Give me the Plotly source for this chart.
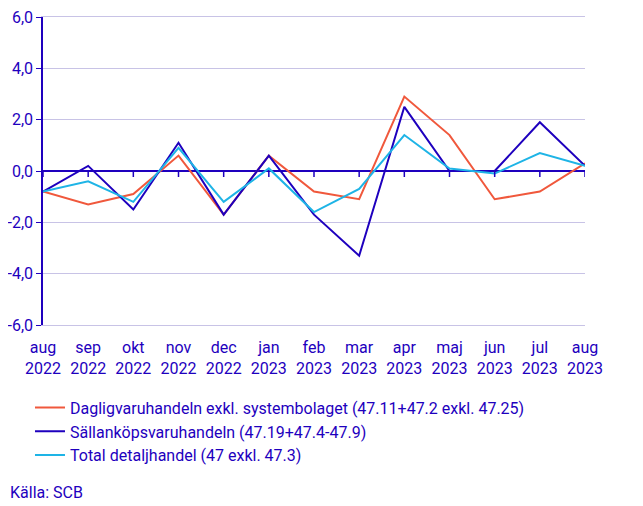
import plotly.graph_objects as go

# Månadsetiketter (x-axel)
manader = ['aug<br>2022', 'sep<br>2022', 'okt<br>2022', 'nov<br>2022', 'dec<br>2022',
           'jan<br>2023', 'feb<br>2023', 'mar<br>2023', 'apr<br>2023', 'maj<br>2023',
           'jun<br>2023', 'jul<br>2023', 'aug<br>2023']

# Serier (procentuell förändring)
dagligvaru = [-0.8, -1.3, -0.9, 0.6, -1.7, 0.6, -0.8, -1.1, 2.9, 1.4, -1.1, -0.8, 0.3]
sallankop = [-0.8, 0.2, -1.5, 1.1, -1.7, 0.6, -1.7, -3.3, 2.5, 0.0, 0.0, 1.9, 0.2]
total = [-0.8, -0.4, -1.2, 0.9, -1.2, 0.1, -1.6, -0.7, 1.4, 0.1, -0.1, 0.7, 0.2]

y_ticks = [-6, -4, -2, 0, 2, 4, 6]
y_ticktext = ['-6,0', '-4,0', '-2,0', '0,0', '2,0', '4,0', '6,0']

TEXT = '#1E00BE'
BLA = '#1E00BE'
ORANGE = '#F0583C'
CYAN = '#1EB4E6'
GRID = '#C8C3E6'
FS = 16

fig = go.Figure()
fig.add_trace(go.Scatter(x=manader, y=dagligvaru, mode='lines',
                         name='Dagligvaruhandeln exkl. systembolaget (47.11+47.2 exkl. 47.25)',
                         line=dict(color=ORANGE, width=2)))
fig.add_trace(go.Scatter(x=manader, y=sallankop, mode='lines',
                         name='Sällanköpsvaruhandeln (47.19+47.4-47.9)',
                         line=dict(color=BLA, width=2)))
fig.add_trace(go.Scatter(x=manader, y=total, mode='lines',
                         name='Total detaljhandel (47 exkl. 47.3)',
                         line=dict(color=CYAN, width=2)))

# små tickmarkeringar på nollinjen
for i in range(len(manader)):
    fig.add_shape(type='line', xref='x', yref='y', x0=i, x1=i,
                  ysizemode='pixel', yanchor=0, y0=0, y1=-6,
                  line=dict(color=BLA, width=1.5))

fig.add_annotation(text='Källa: SCB', xref='paper', yref='paper',
                   x=-0.0646, y=-0.545, xanchor='left', yanchor='middle',
                   showarrow=False, font=dict(size=FS, color=TEXT))

# sidan har 8px marginal runt diagrammet, därav 635x498
fig.update_layout(
    width=635, height=498,
    margin=dict(l=35, r=58, t=9, b=181),
    paper_bgcolor='white', plot_bgcolor='white',
    separators=', ',
    font=dict(family='Roboto', size=FS, color=TEXT),
    showlegend=True,
    legend=dict(x=-0.024, y=-0.213, xanchor='left', yanchor='top',
                bgcolor='rgba(0,0,0,0)', tracegroupgap=0,
                font=dict(size=FS, color=TEXT), itemwidth=30),
    xaxis=dict(range=[0, 12], showgrid=False, ticks='',
               showline=True, mirror=True, linecolor=GRID, linewidth=1,
               automargin=False, ticklabelstandoff=8,
               tickfont=dict(size=FS, color=TEXT), zeroline=False),
    yaxis=dict(range=[-6, 6], tickvals=y_ticks, ticktext=y_ticktext,
               automargin=False, ticklabeloverflow='allow',
               showgrid=True, gridcolor=GRID, gridwidth=1,
               zeroline=True, zerolinecolor=BLA, zerolinewidth=1.5,
               showline=True, linecolor=BLA, linewidth=1.5,
               ticks='outside', ticklen=5, tickcolor=BLA,
               tickfont=dict(size=FS, color=TEXT)),
)

fig.write_html('out.html')
